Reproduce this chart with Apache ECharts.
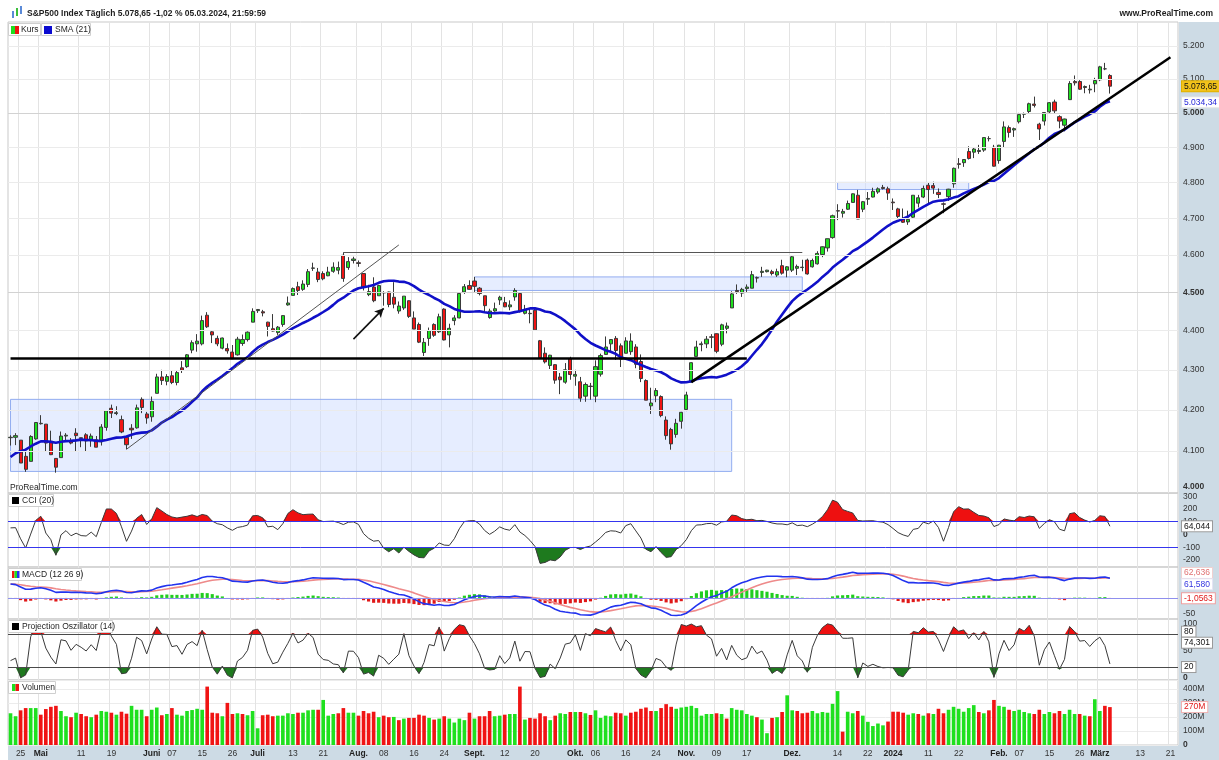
<!DOCTYPE html>
<html>
<head>
<meta charset="utf-8">
<script src="https://cdn.jsdelivr.net/npm/echarts@6.0.0/dist/echarts.min.js"></script>
<style>
html,body{margin:0;padding:0;background:#fff}
#main{width:1219px;height:760px}
</style>
</head>
<body>
<div id="main"></div>
<script>
// closes before the first visible bar (Mar 1 - Apr 20 2023), only used to warm up the indicators
var warmClose = [3951,3981,4046,4048,3986,3992,3918,3862,3856,3919,3892,3960,3917,3952,3991,3937,3949,3971,3978,3971,4028,4051,4109,4125,4101,4090,4105,4109,4109,4092,4146,4138,4151,4155,4155,4130];

// S&P500 daily bars, 21.04.2023 - 05.03.2024
var open = [
4132,4133,4126,4087,4075,4129,4166,4165,4123,4082,
4084,4136,4125,4143,4132,4139,4127,4127,4122,4157,
4204,4191,4176,4133,4155,4156,4226,4190,4183,4241,
4282,4271,4285,4268,4305,4308,4350,4366,4366,4440,
4397,4380,4355,4354,4345,4338,4367,4377,4422,4452,
4449,4422,4405,4395,4416,4467,4492,4515,4508,4521,
4564,4554,4550,4544,4556,4559,4599,4566,4585,4579,
4550,4494,4514,4491,4499,4501,4487,4451,4459,4478,
4433,4416,4344,4380,4416,4397,4456,4389,4426,4433,
4501,4518,4530,4511,4491,4434,4451,4480,4473,4462,
4488,4497,4445,4445,4453,4374,4342,4311,4313,4282,
4269,4328,4284,4270,4234,4259,4234,4289,4339,4366,
4380,4361,4342,4346,4358,4321,4273,4210,4235,4233,
4175,4152,4140,4172,4201,4269,4334,4364,4366,4384,
4392,4365,4406,4459,4505,4498,4510,4511,4539,4553,
4555,4555,4546,4571,4559,4559,4564,4566,4586,4568,
4576,4601,4619,4647,4721,4714,4725,4744,4764,4725,
4753,4759,4773,4786,4782,4745,4726,4698,4690,4703,
4742,4759,4792,4791,4772,4740,4760,4796,4853,4856,
4888,4886,4888,4892,4925,4900,4862,4917,4957,4950,
4974,4996,5004,5026,4967,4976,5003,5032,4989,4964,
5039,5093,5093,5075,5068,5086,5098,5131,5111];
var high = [
4138,4143,4126,4100,4138,4170,4187,4165,4149,4082,
4147,4143,4131,4155,4132,4143,4142,4136,4165,4198,
4213,4209,4186,4133,4165,4213,4231,4195,4233,4290,
4300,4289,4299,4298,4322,4340,4375,4391,4439,4448,
4400,4387,4382,4367,4363,4384,4390,4398,4458,4456,
4454,4423,4443,4412,4440,4489,4513,4528,4532,4562,
4579,4565,4556,4568,4580,4582,4607,4594,4595,4585,
4551,4520,4540,4520,4503,4502,4527,4476,4490,4479,
4450,4421,4381,4408,4419,4444,4458,4418,4440,4500,
4522,4532,4541,4514,4491,4457,4473,4491,4488,4479,
4511,4498,4467,4457,4461,4376,4357,4338,4314,4292,
4317,4333,4300,4282,4268,4267,4324,4341,4385,4378,
4386,4367,4383,4393,4365,4339,4276,4255,4254,4236,
4184,4156,4178,4195,4245,4319,4374,4372,4386,4391,
4393,4418,4421,4503,4521,4512,4521,4557,4542,4568,
4560,4560,4563,4587,4570,4599,4574,4587,4590,4590,
4610,4623,4644,4710,4739,4726,4749,4769,4779,4748,
4773,4785,4786,4793,4788,4755,4729,4727,4721,4764,
4765,4791,4799,4802,4783,4744,4782,4842,4869,4866,
4903,4898,4907,4929,4932,4907,4907,4975,4963,4957,
5000,5001,5030,5048,4971,5002,5032,5039,4993,4983,
5094,5111,5097,5081,5083,5104,5140,5149,5115];
var low = [
4113,4114,4071,4050,4075,4127,4164,4098,4090,4048,
4084,4124,4116,4099,4109,4099,4110,4109,4113,4149,
4180,4187,4143,4104,4129,4154,4192,4166,4171,4241,
4262,4261,4264,4261,4292,4305,4342,4346,4362,4407,
4368,4360,4352,4341,4328,4336,4361,4372,4422,4446,
4437,4385,4398,4389,4410,4465,4492,4493,4504,4514,
4557,4527,4532,4543,4552,4548,4528,4560,4577,4568,
4505,4490,4474,4491,4465,4461,4458,4444,4454,4433,
4404,4368,4335,4361,4384,4394,4375,4357,4414,4432,
4496,4507,4501,4492,4446,4431,4449,4467,4461,4453,
4478,4447,4442,4419,4402,4329,4316,4302,4265,4239,
4265,4275,4260,4220,4220,4225,4219,4283,4339,4345,
4325,4307,4342,4338,4304,4269,4224,4190,4219,4182,
4127,4103,4132,4154,4197,4269,4334,4347,4355,4355,
4342,4360,4393,4459,4496,4488,4500,4511,4526,4541,
4553,4545,4541,4547,4540,4554,4546,4556,4547,4566,
4574,4594,4609,4644,4695,4702,4723,4744,4698,4717,
4737,4758,4768,4780,4751,4723,4700,4687,4682,4700,
4730,4756,4739,4768,4756,4714,4748,4785,4839,4844,
4865,4869,4881,4887,4917,4845,4853,4898,4928,4930,
4969,4985,4999,5016,4921,4963,4999,4998,4955,4946,
5038,5081,5068,5058,5057,5061,5094,5127,5057];
var close = [
4133,4137,4071,4056,4135,4169,4167,4119,4091,4061,
4136,4138,4119,4137,4130,4124,4136,4109,4158,4198,
4192,4193,4146,4115,4151,4205,4206,4180,4221,4282,
4273,4283,4268,4293,4299,4338,4369,4373,4426,4410,
4389,4366,4381,4348,4328,4378,4377,4396,4450,4455,
4446,4411,4399,4409,4439,4472,4510,4505,4522,4555,
4565,4534,4536,4554,4567,4566,4537,4582,4589,4577,
4513,4502,4478,4518,4499,4468,4469,4464,4490,4437,
4404,4370.4,4369.7,4400,4388,4436,4376,4406,4433,4497,
4515,4508,4516,4497,4465,4451,4457,4487,4462,4467,
4505,4450,4454,4444,4402,4330,4320,4337,4274,4275,
4300,4288.1,4288.4,4229,4263,4258,4308,4336,4358,4377,
4349,4327,4373.6,4373.2,4314,4278,4224,4217,4248,4186,
4137,4117,4167,4194,4237,4318,4358,4366,4378,4383,
4347,4415,4412,4496,4502,4508,4514,4547,4538,4556,
4559,4550,4555,4551,4568,4595,4569,4567,4549,4585,
4604,4622,4644,4707,4720,4719,4741,4768,4698,4746,
4755,4775,4782,4783,4770,4743,4705,4689,4697,4764,
4757,4783,4780,4784,4766,4739,4781,4840,4851,4865,
4868,4895,4891,4928,4925,4846,4906,4959,4943,4954,
4995,4998,5027,5022,4953,5001,5030,5006,4976,4982,
5087,5089,5070,5078,5070,5096,5137,5131,5079];
// volume in millions
var volume = [
226,205,247,263,263,263,216,256,272,279,
242,205,198,230,221,205,198,216,242,237,
230,216,237,223,279,251,251,205,251,267,
212,221,263,216,209,242,249,258,251,416,
230,226,205,300,221,226,221,212,242,119,
212,216,205,209,209,226,221,230,230,247,
251,251,321,209,221,226,263,230,230,209,
242,226,237,198,209,198,200,177,188,193,
193,216,209,193,181,188,205,188,160,188,
177,230,188,205,205,242,205,209,216,221,
221,416,181,193,188,226,205,177,209,226,
221,235,235,235,226,214,247,193,209,205,
230,226,209,230,237,258,267,242,242,263,
291,272,258,267,272,279,263,209,221,221,
226,221,188,263,251,247,221,209,198,181,
84,193,198,235,354,247,242,226,230,242,
226,235,230,293,384,95,237,226,242,209,
165,135,153,140,167,237,237,230,216,226,
221,209,226,221,258,226,251,272,258,237,
263,284,235,226,247,321,279,272,251,242,
251,235,226,221,251,221,235,226,242,221,
251,221,221,209,205,326,242,279,270];

var holidays = ['2023-05-29','2023-06-19','2023-07-04','2023-09-04','2023-11-23','2023-12-25','2024-01-01','2024-01-15','2024-02-19'];
var xLabels = {
'2023-04-25':'25','2023-05-01':'Mai','2023-05-11':'11','2023-05-19':'19','2023-06-01':'Juni','2023-06-07':'07',
'2023-06-15':'15','2023-06-26':'26','2023-07-03':'Juli','2023-07-13':'13','2023-07-21':'21','2023-08-01':'Aug.',
'2023-08-08':'08','2023-08-16':'16','2023-08-24':'24','2023-09-01':'Sept.','2023-09-12':'12','2023-09-20':'20',
'2023-10-02':'Okt.','2023-10-06':'06','2023-10-16':'16','2023-10-24':'24','2023-11-01':'Nov.','2023-11-09':'09',
'2023-11-17':'17','2023-12-01':'Dez.','2023-12-14':'14','2023-12-22':'22','2024-01-02':'2024','2024-01-11':'11',
'2024-01-22':'22','2024-02-01':'Feb.','2024-02-07':'07','2024-02-15':'15','2024-02-26':'26','2024-03-01':'März',
'2024-03-13':'13','2024-03-21':'21'};
var boldLabels = ['Mai','Juni','Juli','Aug.','Sept.','Okt.','Nov.','Dez.','2024','Feb.','März'];
var priceTicks = [4000,4100,4200,4300,4400,4500,4600,4700,4800,4900,5000,5100,5200];
var cciTicks = [300,200,100,0,-100,-200];
var macdTicks = [50,-50];
var poTicks = [100,50,0];
// last values as printed on the right scale
var lastPrice = 5078.65, lastSma = 5034.34, lastCci = 64.044, lastSignal = 62.636, lastMacd = 61.580,
    lastHist = -1.0563, lastPo = 74.301, lastVol = 270;

// trading day calendar (includes the empty days on the right)
var dates = [];
var d = new Date(Date.UTC(2023, 3, 21));
while (dates.length < 232) {
    var s = d.toISOString().slice(0, 10), wd = d.getUTCDay();
    if (wd !== 0 && wd !== 6 && holidays.indexOf(s) < 0) dates.push(s);
    d.setUTCDate(d.getUTCDate() + 1);
}

function de(v, dec) {
    var p = v.toFixed(dec).split('.');
    p[0] = p[0].replace(/\B(?=(\d{3})+(?!\d))/g, '.');
    return p.join(',');
}

// indicators
var n0 = warmClose.length;
var C = warmClose.concat(close), H = warmClose.concat(high), L = warmClose.concat(low);
function smaArr(a, n) {
    var out = [];
    for (var i = 0; i < a.length; i++) {
        if (i < n - 1) { out.push(null); continue; }
        var s = 0;
        for (var k = i - n + 1; k <= i; k++) s += a[k];
        out.push(s / n);
    }
    return out;
}
function emaArr(a, n) {
    var k = 2 / (n + 1), out = [], e = a[0];
    for (var i = 0; i < a.length; i++) {
        e = i === 0 ? a[0] : a[i] * k + e * (1 - k);
        out.push(e);
    }
    return out;
}
function projOsc(n) {
    var out = [];
    for (var t = 0; t < C.length; t++) {
        if (t < n - 1) { out.push(null); continue; }
        var sx = 0, sxx = 0, sh = 0, sxh = 0, sl = 0, sxl = 0;
        for (var k = 0; k < n; k++) {
            var yh = H[t - n + 1 + k], yl = L[t - n + 1 + k];
            sx += k; sxx += k * k; sh += yh; sxh += k * yh; sl += yl; sxl += k * yl;
        }
        var den = n * sxx - sx * sx, mh = (n * sxh - sx * sh) / den, ml = (n * sxl - sx * sl) / den;
        var ub = -Infinity, lb = Infinity;
        for (var k = 0; k < n; k++) {
            var age = n - 1 - k;
            ub = Math.max(ub, H[t - n + 1 + k] + age * mh);
            lb = Math.min(lb, L[t - n + 1 + k] + age * ml);
        }
        out.push(ub > lb ? 100 * (C[t] - lb) / (ub - lb) : 50);
    }
    return out;
}
var sma21 = smaArr(C, 21).slice(n0);
var tp = C.map(function (c, i) { return (H[i] + L[i] + c) / 3; });
var tpS = smaArr(tp, 20);
var cci = [];
for (var i = n0; i < C.length; i++) {
    var md = 0;
    for (var k = i - 19; k <= i; k++) md += Math.abs(tp[k] - tpS[i]);
    md /= 20;
    cci.push(md ? (tp[i] - tpS[i]) / (0.015 * md) : 0);
}
var e12 = emaArr(C, 12), e26 = emaArr(C, 26);
var macdAll = C.map(function (c, i) { return e12[i] - e26[i]; });
var sigAll = emaArr(macdAll, 9);
var macd = macdAll.slice(n0), signal = sigAll.slice(n0);
var hist = macd.map(function (m, i) { return m - signal[i]; });
var po = projOsc(14).slice(n0);

var GREEN = '#1fe01f', RED = '#f01414', F = 'Liberation Sans';
var candles = close.map(function (c, i) { return [open[i], c, low[i], high[i]]; });
var volBars = volume.map(function (v, i) {
    var prev = i === 0 ? warmClose[n0 - 1] : close[i - 1];
    return { value: v, itemStyle: { color: close[i] >= prev ? GREEN : RED } };
});
var histBars = hist.map(function (h) { return { value: h, itemStyle: { color: h >= 0 ? '#20cc20' : '#e01818' } }; });
function konst(v) { return close.map(function () { return v; }); }

// right scale helpers
function tick(v, text, bold, lineColor) {
    return { yAxis: v, lineStyle: { color: lineColor || 'rgba(0,0,0,0)', width: 1, type: 'solid' },
        label: { show: true, position: 'end', distance: 5, formatter: text, color: '#333', fontSize: 8.5,
            fontFamily: F, fontWeight: bold ? 'bold' : 'normal' } };
}
function box(v, text, color, bg, border, dy) {
    return { yAxis: v, lineStyle: { color: 'rgba(0,0,0,0)', type: 'solid' },
        label: { show: true, position: 'end', distance: 4, formatter: text, color: color, fontSize: 8.5, fontFamily: F,
            backgroundColor: bg, borderColor: border || bg, borderWidth: 1, padding: [1, 2, 0, 2], offset: [0, dy || 0] } };
}
function seg(from, to, color, width, arrow) {
    var end = { coord: to };
    if (arrow) { end.symbol = 'arrow'; end.symbolSize = [7, 9]; }
    return [{ coord: from, lineStyle: { color: color, width: width, type: 'solid' } }, end];
}
var ML = { silent: true, symbol: ['none', 'none'], animation: false, lineStyle: { type: 'solid' } };

var xAxes = [], yAxes = [];
for (var g = 0; g < 5; g++) {
    xAxes.push({
        type: 'category', gridIndex: g, data: dates, boundaryGap: true,
        axisLine: { show: false }, axisTick: { show: false },
        axisLabel: {
            show: g === 4, interval: function (idx, val) { return !!xLabels[val]; }, margin: 4,
            color: '#333', fontSize: 8.5, fontFamily: F,
            formatter: function (val) {
                var t = xLabels[val] || '';
                return boldLabels.indexOf(t) >= 0 ? '{b|' + t + '}' : t;
            },
            rich: { b: { fontWeight: 'bold', fontSize: 8.5, color: '#222', fontFamily: F } }
        },
        splitLine: { show: true, interval: function (idx, val) { return !!xLabels[val]; }, lineStyle: { color: '#e3e3e3' } }
    });
}
yAxes.push({ type: 'log', gridIndex: 0, min: 4000, max: 5274, position: 'right', axisLabel: { show: false }, axisTick: { show: false }, axisLine: { show: false }, splitLine: { show: false } });
yAxes.push({ type: 'value', gridIndex: 1, min: -255, max: 325, position: 'right', axisLabel: { show: false }, axisTick: { show: false }, axisLine: { show: false }, splitLine: { show: false } });
yAxes.push({ type: 'value', gridIndex: 2, min: -66, max: 97, position: 'right', axisLabel: { show: false }, axisTick: { show: false }, axisLine: { show: false }, splitLine: { show: false } });
yAxes.push({ type: 'value', gridIndex: 3, min: -4, max: 109, position: 'right', axisLabel: { show: false }, axisTick: { show: false }, axisLine: { show: false }, splitLine: { show: false } });
yAxes.push({ type: 'value', gridIndex: 4, min: 0, max: 463, interval: 100, position: 'right',
    axisLabel: { show: true, margin: 5, color: '#333', fontSize: 8.5, fontFamily: F, showMaxLabel: false,
        formatter: function (v) { return v === 0 ? '{b|0}' : v + 'M'; },
        rich: { b: { fontWeight: 'bold', fontSize: 8.5, color: '#333' } } },
    axisTick: { show: false }, axisLine: { show: false }, splitLine: { show: true, lineStyle: { color: '#ececec' } } });

var priceGrid = priceTicks.map(function (v) {
    var t = tick(v, de(v, 0), v % 500 === 0, v % 500 === 0 ? '#d2d2d2' : '#ebebeb');
    if (v === 4000) t.label.offset = [0, -6];
    return t;
});

// legend boxes and header sit above the plot
var TOP = 100;
function gRect(x, y, w, h, style) { return { type: 'rect', z: TOP, silent: true, shape: { x: x, y: y, width: w, height: h }, style: style }; }
function gText(x, y, text, font, align) { return { type: 'text', z: TOP, silent: true, style: { x: x, y: y, text: text, font: font, fill: '#1e1e1e', align: align || 'left', verticalAlign: 'middle' } }; }
var FN = '8.5px "Liberation Sans"', FB = 'bold 8.5px "Liberation Sans"';

var option = {
    animation: false,
    backgroundColor: '#fff',
    textStyle: { fontFamily: F },
    grid: [
        { left: 8, top: 22, width: 1170, height: 471 },
        { left: 8, top: 493, width: 1170, height: 74 },
        { left: 8, top: 567, width: 1170, height: 52 },
        { left: 8, top: 619, width: 1170, height: 61 },
        { left: 8, top: 680, width: 1170, height: 65 }
    ].map(function (gr) { gr.show = true; gr.borderColor = '#c9c9c9'; gr.borderWidth = 1; return gr; }),
    xAxis: xAxes,
    yAxis: yAxes,
    graphic: [
        { type: 'rect', z: -10, silent: true, shape: { x: 1178, y: 22, width: 41, height: 738 }, style: { fill: '#cddbe5' } },
        { type: 'rect', z: -10, silent: true, shape: { x: 8, y: 745, width: 1211, height: 15 }, style: { fill: '#cddbe5' } },
        gRect(12, 11, 2, 7, { fill: '#5a8ad8' }),
        gRect(16, 8, 2, 8, { fill: '#3cbf3c' }),
        gRect(20, 6, 2, 8, { fill: '#5a8ad8' }),
        gText(27, 14, 'S&P500 Index Täglich 5.078,65 -1,02 % 05.03.2024, 21:59:59', FB),
        gText(1213, 14, 'www.ProRealTime.com', FB, 'right'),
        gRect(8.5, 23.5, 32, 12, { fill: '#fff', stroke: '#cfcfcf' }),
        gRect(11, 26, 4, 8, { fill: GREEN }),
        gRect(15, 26, 4, 8, { fill: RED }),
        gText(21, 30, 'Kurs', FN),
        gRect(41.5, 23.5, 49, 12, { fill: '#fff', stroke: '#cfcfcf' }),
        gRect(44, 26, 8, 8, { fill: '#0a0ad0' }),
        gText(55, 30, 'SMA (21)', FN),
        gText(10, 488, 'ProRealTime.com', FN),
        gRect(8.5, 494.5, 45, 12, { fill: '#fff', stroke: '#cfcfcf' }),
        gRect(12, 497, 7, 7, { fill: '#000' }),
        gText(22, 501, 'CCI (20)', FN),
        gRect(8.5, 568.5, 73, 12, { fill: '#fff', stroke: '#cfcfcf' }),
        gRect(12, 571, 2.5, 7, { fill: RED }),
        gRect(14.5, 571, 2.5, 7, { fill: GREEN }),
        gRect(17, 571, 2.5, 7, { fill: '#2233ee' }),
        gText(22, 575, 'MACD (12 26 9)', FN),
        gRect(8.5, 620.5, 104, 12, { fill: '#fff', stroke: '#cfcfcf' }),
        gRect(12, 623, 7, 7, { fill: '#000' }),
        gText(22, 627, 'Projection Oszillator (14)', FN),
        gRect(8.5, 681.5, 47, 12, { fill: '#fff', stroke: '#cfcfcf' }),
        gRect(12, 684, 3.5, 7, { fill: GREEN }),
        gRect(15.5, 684, 3.5, 7, { fill: RED }),
        gText(22, 688, 'Volumen', FN)
    ],
    series: [
        // price scale + boxes drawn behind the candles
        {
            type: 'line', xAxisIndex: 0, yAxisIndex: 0, data: close, showSymbol: false, silent: true, z: 1,
            lineStyle: { opacity: 0 },
            markLine: Object.assign({ data: priceGrid }, ML),
            markArea: {
                silent: true,
                itemStyle: { color: 'rgba(205,220,255,0.5)', borderColor: '#93adf0', borderWidth: 1 },
                data: [
                    [{ coord: ['2023-04-21', 4226] }, { coord: ['2023-11-14', 4051] }],
                    [{ coord: ['2023-09-01', 4541] }, { coord: ['2023-12-05', 4505] }],
                    [{ coord: ['2023-12-14', 4800] }, { coord: ['2024-01-24', 4780] }]
                ]
            }
        },
        {
            name: 'Kurs', type: 'candlestick', xAxisIndex: 0, yAxisIndex: 0, data: candles, barWidth: '72%', z: 2,
            itemStyle: { color: GREEN, color0: RED, borderColor: '#3a3a3a', borderColor0: '#3a3a3a', borderWidth: 1 }
        },
        {
            name: 'SMA (21)', type: 'line', xAxisIndex: 0, yAxisIndex: 0, data: sma21, showSymbol: false, z: 3,
            lineStyle: { color: '#1010c8', width: 2.6 },
            markLine: Object.assign({
                data: [
                    seg(['2023-04-21', 4329], ['2023-11-17', 4329], '#000', 2.5),
                    seg(['2023-07-27', 4607], ['2023-12-05', 4607], '#555', 1),
                    seg(['2023-05-24', 4104], ['2023-08-11', 4627], '#555', 1),
                    seg(['2023-07-31', 4378], ['2023-08-08', 4458], '#111', 1.6, true),
                    seg(['2023-11-02', 4269], ['2024-03-21', 5166], '#000', 2.5),
                    box(lastPrice, de(lastPrice, 2), '#111', '#f2c21b', '#e0b000'),
                    box(lastSma, de(lastSma, 2), '#2424d8', '#fff', '#e2e2e2', 1)
                ],
                label: { show: false }
            }, ML)
        },
        // CCI
        { type: 'line', xAxisIndex: 1, yAxisIndex: 1, data: konst(100), stack: 'cciU', stackStrategy: 'all', showSymbol: false, silent: true, lineStyle: { opacity: 0 }, z: 2 },
        { type: 'line', xAxisIndex: 1, yAxisIndex: 1, data: cci.map(function (v) { return Math.max(v - 100, 0); }), stack: 'cciU', stackStrategy: 'all', showSymbol: false, silent: true, lineStyle: { opacity: 0 }, areaStyle: { color: '#ee1010', opacity: 1 }, z: 2 },
        { type: 'line', xAxisIndex: 1, yAxisIndex: 1, data: konst(-100), stack: 'cciD', stackStrategy: 'all', showSymbol: false, silent: true, lineStyle: { opacity: 0 }, z: 2 },
        { type: 'line', xAxisIndex: 1, yAxisIndex: 1, data: cci.map(function (v) { return Math.min(v + 100, 0); }), stack: 'cciD', stackStrategy: 'all', showSymbol: false, silent: true, lineStyle: { opacity: 0 }, areaStyle: { color: '#1e7a1e', opacity: 1 }, z: 2 },
        {
            name: 'CCI (20)', type: 'line', xAxisIndex: 1, yAxisIndex: 1, data: cci, showSymbol: false, z: 3,
            lineStyle: { color: '#3a3a3a', width: 1 },
            markLine: Object.assign({
                data: cciTicks.map(function (v) {
                    return tick(v, String(v), v === 0, v === 100 || v === -100 ? '#3535ee' : null);
                }).concat([box(lastCci, de(lastCci, 3), '#111', '#fff', '#999')])
            }, ML)
        },
        // MACD
        { type: 'bar', xAxisIndex: 2, yAxisIndex: 2, data: histBars, barWidth: '62%', z: 2, silent: true },
        {
            name: 'MACD', type: 'line', xAxisIndex: 2, yAxisIndex: 2, data: macd, showSymbol: false, z: 4,
            lineStyle: { color: '#2233ee', width: 1.6 },
            markLine: Object.assign({
                data: macdTicks.map(function (v) { return tick(v, String(v), false); }).concat([
                    { yAxis: 0, lineStyle: { color: '#8f8fee', width: 1, type: 'solid' }, label: { show: false } },
                    box(lastSignal, de(lastSignal, 3), '#e07070', '#fff', '#f0d0d0', -5),
                    box(lastMacd, de(lastMacd, 3), '#3535e0', '#fff', '#e4e4f4', 6),
                    box(lastHist, de(lastHist, 4), '#e01818', '#fff', '#f0a0a0')
                ])
            }, ML)
        },
        { name: 'Signal', type: 'line', xAxisIndex: 2, yAxisIndex: 2, data: signal, showSymbol: false, z: 3, lineStyle: { color: '#ee8a8a', width: 1.6 } },
        // Projection oscillator
        { type: 'line', xAxisIndex: 3, yAxisIndex: 3, data: konst(80), stack: 'poU', stackStrategy: 'all', showSymbol: false, silent: true, lineStyle: { opacity: 0 }, z: 2 },
        { type: 'line', xAxisIndex: 3, yAxisIndex: 3, data: po.map(function (v) { return Math.max(v - 80, 0); }), stack: 'poU', stackStrategy: 'all', showSymbol: false, silent: true, lineStyle: { opacity: 0 }, areaStyle: { color: '#ee1010', opacity: 1 }, z: 2 },
        { type: 'line', xAxisIndex: 3, yAxisIndex: 3, data: konst(20), stack: 'poD', stackStrategy: 'all', showSymbol: false, silent: true, lineStyle: { opacity: 0 }, z: 2 },
        { type: 'line', xAxisIndex: 3, yAxisIndex: 3, data: po.map(function (v) { return Math.min(v - 20, 0); }), stack: 'poD', stackStrategy: 'all', showSymbol: false, silent: true, lineStyle: { opacity: 0 }, areaStyle: { color: '#1e7a1e', opacity: 1 }, z: 2 },
        {
            name: 'Projection Oszillator (14)', type: 'line', xAxisIndex: 3, yAxisIndex: 3, data: po, showSymbol: false, z: 3,
            lineStyle: { color: '#3a3a3a', width: 1 },
            markLine: Object.assign({
                data: poTicks.map(function (v) { return tick(v, String(v), v === 0); }).concat([
                    { yAxis: 80, lineStyle: { color: '#4a4a4a', width: 1.2, type: 'solid' }, label: { show: false } },
                    { yAxis: 20, lineStyle: { color: '#4a4a4a', width: 1.2, type: 'solid' }, label: { show: false } },
                    box(80, '80', '#111', '#fff', '#999', -3),
                    box(lastPo, de(lastPo, 3), '#111', '#fff', '#999', 5),
                    box(20, '20', '#111', '#fff', '#999')
                ])
            }, ML)
        },
        // Volume
        {
            name: 'Volumen', type: 'bar', xAxisIndex: 4, yAxisIndex: 4, data: volBars, barWidth: '72%', z: 2,
            markLine: Object.assign({ data: [box(lastVol, lastVol + 'M', '#e01818', '#fff', '#f0b0b0')] }, ML)
        }
    ]
};
var chart = echarts.init(document.getElementById('main'));
chart.setOption(option);
</script>
</body>
</html>
